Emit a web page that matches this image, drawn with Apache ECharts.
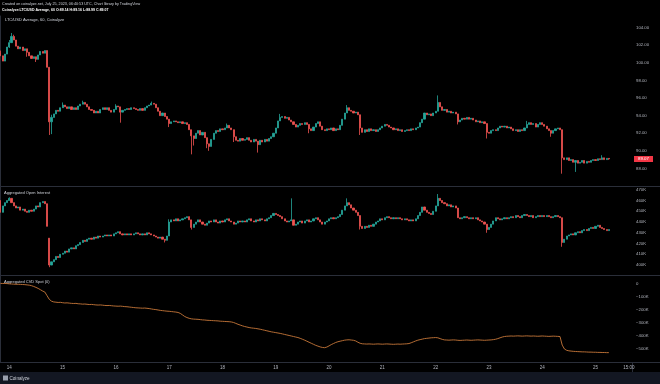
<!DOCTYPE html>
<html><head><meta charset="utf-8">
<script src="https://cdn.jsdelivr.net/npm/echarts@6/dist/echarts.min.js"></script>
<style>html,body{margin:0;padding:0;background:#000;}#c{width:660px;height:384px;}</style>
</head><body><div id="c"></div><script>
// hourly candles, index 0 = Jul 13 20:00 UTC
const priceOpen0 = 101.2;
const priceClose = [
100.8,100.2,101.0,101.8,102.3,103.0,102.6,101.9,101.6,101.8,
101.4,101.6,101.2,100.8,100.5,100.7,100.4,100.9,101.3,101.1,
101.4,99.5,93.3,93.8,94.2,94.6,94.5,94.9,95.2,95.0,
94.8,95.0,94.7,94.9,94.7,95.1,95.3,95.5,95.3,95.0,
94.7,94.6,94.3,94.5,94.3,94.7,94.9,94.7,94.9,94.6,
94.4,94.7,95.1,95.0,94.4,94.6,94.7,94.8,94.7,94.9,
94.8,94.7,94.6,94.8,94.6,94.9,95.1,95.2,95.4,95.3,
94.9,94.5,94.0,94.3,93.9,93.6,93.1,93.3,93.4,93.3,
93.2,93.3,93.1,93.2,93.0,92.4,91.7,91.4,92.0,92.3,
91.8,92.1,91.5,90.8,90.5,91.3,92.0,92.3,92.2,92.5,
92.4,92.6,92.9,92.6,92.4,91.6,91.2,91.1,91.4,91.2,
91.3,91.5,91.2,91.0,91.3,91.1,90.7,91.2,91.0,91.3,
91.1,91.4,91.6,92.0,92.6,93.4,93.8,93.9,93.7,93.8,
93.5,93.3,93.0,92.7,92.9,93.1,93.0,93.2,93.0,92.5,
92.3,92.7,93.1,93.3,92.8,92.4,92.3,92.5,92.4,92.6,
92.3,92.5,92.4,92.9,93.6,94.3,94.9,94.6,94.5,94.3,
94.4,94.1,92.6,92.1,92.4,92.2,92.5,92.3,92.4,92.2,
92.4,92.6,92.8,93.0,92.9,92.7,92.6,92.4,92.5,92.3,
92.4,92.2,92.3,92.4,92.3,92.5,92.4,92.6,92.7,93.2,
93.6,94.3,94.1,94.2,94.0,94.3,94.5,95.5,95.0,94.6,
94.7,94.4,94.5,94.3,94.4,94.2,93.3,93.5,93.7,93.6,
93.8,93.6,93.7,93.5,93.3,93.4,93.2,93.3,93.1,92.1,
92.0,92.3,92.4,92.3,92.6,92.8,92.7,92.8,92.6,92.7,
92.5,92.3,92.4,92.2,92.4,92.3,92.6,93.0,93.2,93.0,
93.1,92.7,93.0,93.2,93.0,92.8,92.5,92.3,92.0,92.3,
92.5,92.6,92.4,89.2,89.0,89.2,88.9,89.0,88.7,88.9,
88.6,88.7,88.9,88.6,88.8,88.7,88.9,89.0,88.9,89.1,
89.0,89.2,89.0,89.14,89.07];
// [high, low] extremes read from the wicks (null: wick ends at body)
const priceWicks = {0:[101.4,null],4:[102.6,101.7],5:[103.4,null],6:[103.2,null],12:[null,100.7],16:[null,100.1],
22:[null,91.8],23:[94.1,91.9],28:[95.5,null],37:[95.7,null],52:[95.3,null],54:[null,93.2],68:[95.6,null],76:[null,92.7],
86:[null,89.6],87:[null,90.6],93:[null,90.3],94:[null,90.0],102:[93.1,null],105:[null,91.0],116:[null,89.8],
126:[94.2,null],139:[null,92.0],156:[95.2,null],162:[null,91.8],197:[96.3,null],206:[null,93.0],
219:[null,91.4],237:[93.4,null],248:[null,91.6],253:[null,87.4],259:[null,87.6],271:[89.5,null],274:[89.16,88.99]};

const oiOpen0 = 460;
const oiClose = [
449,455,458,460,462,458,455,453,454,451,
452,450,449,451,450,452,455,454,458,459,
457,436,400,403,405,408,407,410,411,413,
412,415,416,415,418,419,421,423,422,424,
425,424,426,425,427,426,427,428,427,428,
427,429,430,431,429,428,429,428,429,428,
429,430,429,428,429,428,430,429,428,427,
426,425,426,424,423,427,440,442,441,443,
441,442,443,444,445,442,435,438,440,442,
440,438,437,439,441,440,442,440,439,441,
440,442,443,441,440,438,439,441,440,441,
440,442,443,441,440,442,441,443,442,441,
443,444,446,448,447,446,445,443,441,440,
441,442,437,438,440,441,439,441,442,440,
441,443,444,442,440,438,440,441,443,444,
443,444,445,447,451,455,458,456,453,451,
449,446,436,434,436,435,437,436,438,440,
441,443,442,444,445,444,443,444,443,444,
443,442,443,442,441,442,441,443,446,449,
454,451,449,448,447,450,455,462,460,458,
457,455,456,454,455,453,444,443,444,445,
444,443,444,443,444,442,441,440,438,433,
435,438,441,444,443,442,443,444,443,444,
445,444,446,445,444,446,447,446,445,446,
444,445,446,445,446,445,446,445,444,445,
446,445,444,421,424,427,428,429,428,430,
431,430,432,433,432,434,435,434,436,437,
435,434,433,432,433];
const oiOpenGaps = {22:425};
const oiWicks = {4:[463,null],22:[null,398],74:[null,421],76:[442.5,null],86:[null,433],131:[462,null],
156:[462,null],162:[null,433],197:[466,null],219:[null,430],253:[null,417]};

const cvd = [
5,4,4,3,1,0,-1,-2,-2,-3,
-4,-5,-7,-9,-13,-19,-26,-34,-44,-54,
-62,-90,-118,-132,-138,-140,-142,-141,-144,-146,
-145,-147,-149,-150,-149,-152,-153,-155,-154,-156,
-158,-157,-159,-161,-162,-161,-163,-165,-166,-165,
-167,-169,-170,-171,-170,-172,-174,-175,-177,-179,
-181,-183,-184,-185,-186,-185,-187,-189,-192,-195,
-197,-200,-203,-205,-207,-209,-210,-212,-214,-216,
-219,-226,-238,-250,-258,-264,-268,-270,-271,-272,
-274,-276,-277,-279,-280,-281,-282,-283,-284,-286,
-287,-288,-289,-290,-292,-296,-303,-310,-316,-322,
-327,-331,-335,-338,-340,-342,-345,-348,-352,-356,
-360,-364,-368,-371,-374,-377,-380,-384,-388,-392,
-396,-400,-404,-408,-412,-418,-425,-432,-440,-448,
-456,-464,-472,-478,-484,-488,-490,-485,-476,-466,
-458,-450,-444,-440,-436,-432,-430,-429,-431,-433,
-438,-448,-456,-460,-461,-462,-461,-462,-463,-462,
-461,-462,-463,-462,-461,-462,-463,-464,-463,-462,
-463,-462,-461,-460,-458,-452,-445,-438,-432,-428,
-424,-420,-418,-416,-414,-413,-412,-414,-420,-426,
-430,-431,-432,-431,-430,-431,-433,-434,-433,-432,
-431,-432,-433,-432,-431,-430,-431,-432,-433,-432,
-431,-430,-428,-425,-420,-414,-408,-404,-402,-401,
-400,-401,-400,-399,-400,-401,-400,-399,-400,-401,
-400,-401,-402,-401,-400,-401,-402,-403,-402,-401,
-402,-403,-404,-470,-500,-510,-514,-516,-518,-519,
-520,-521,-522,-522,-523,-524,-524,-525,-525,-526,
-526,-527,-527,-528,-528];

const tickHours = [4,28,52,76,100,124,148,172,196,220,244,268,283];
const tickLabels = ['14','15','16','17','18','19','20','21','22','23','24','25','15:00'];
const lastPrice = 89.07;

function buildCandles(close, open0, gaps, wicks){
  const out = []; let prev = open0;
  for (let i = 0; i < close.length; i++){
    const o = gaps[i] != null ? gaps[i] : prev;
    const c = close[i];
    const w = wicks[i] || [null, null];
    const h = w[0] != null ? w[0] : Math.max(o, c);
    const l = w[1] != null ? w[1] : Math.min(o, c);
    out.push([i, o, c, l, h]);
    prev = c;
  }
  return out;
}
const priceData = buildCandles(priceClose, priceOpen0, {}, priceWicks);
const oiData = buildCandles(oiClose, oiOpen0, oiOpenGaps, oiWicks);
const cvdData = cvd.map((v, i) => [i, v]);

const UP = '#26a69a', DOWN = '#ef5350', SEP = '#2a2e39', LBL = '#b2b5be';
const FONT = 'Liberation Sans';
const xMin = -0.19, xMax = 284.43;
function xAx(g, labels){
  return {type:'value', gridIndex:g, min:xMin, max:xMax, splitLine:{show:false},
    axisLine:{show:false}, axisTick:{show:false},
    axisLabel: labels ? {show:true, customValues:tickHours, color:LBL, fontSize:4.5, fontFamily:FONT, margin:3,
      formatter: v => { const k = tickHours.indexOf(Math.round(v)); return k >= 0 ? tickLabels[k] : ''; }} : {show:false}};
}
function yAx(g, min, max, interval, fmt){
  return {type:'value', gridIndex:g, position:'right', min, max, interval, scale:true,
    splitLine:{show:false}, axisTick:{show:false},
    axisLine:{show:true, lineStyle:{color:SEP, width:1}},
    axisLabel:{color:LBL, fontSize:4.3, fontFamily:FONT, margin:4, formatter:fmt, showMinLabel:true, showMaxLabel:true}};
}
const candleStyle = {color:UP, color0:DOWN, borderColor:UP, borderColor0:DOWN, borderColorDoji:UP, borderWidth:0.8};

const chart = echarts.init(document.getElementById('c'), null, {renderer:'canvas'});
chart.setOption({
  backgroundColor:'#000000',
  animation:false,
  grid:[
    {left:0, right:28, top:16, height:170},
    {left:0, right:28, top:187, height:88.8},
    {left:0, right:28, top:276, height:86}
  ],
  xAxis:[xAx(0,false), xAx(1,false), xAx(2,true)],
  yAxis:[
    yAx(0, 86, 105.33, 2, v => (v >= 88 && v <= 104 && Math.abs(v/2 - Math.round(v/2)) < 1e-6) ? v.toFixed(2) : ''),
    yAx(1, 390, 472.55, 10, v => (v >= 400 && v <= 470 && v % 10 === 0) ? v + 'K' : ''),
    yAx(2, -600, 61.5, 100, v => (v <= 0 && v >= -500 && v % 100 === 0) ? (v === 0 ? '0' : '\u2212' + (-v) + 'K') : '')
  ],
  series:[
    {type:'candlestick', xAxisIndex:0, yAxisIndex:0, data:priceData, encode:{x:0, y:[1,2,3,4]},
     barWidth:1.6, itemStyle:candleStyle, silent:true,
     markLine:{silent:true, symbol:['none','none'], lineStyle:{color:'rgba(0,0,0,0)', width:0.1, type:'solid'},
       data:[{yAxis:lastPrice}],
       label:{show:true, position:'end', distance:2, formatter:lastPrice.toFixed(2), color:'#ffffff',
         backgroundColor:'#f23645', padding:[1,4,1,4], fontSize:4.4, fontFamily:FONT}}},
    {type:'candlestick', xAxisIndex:1, yAxisIndex:1, data:oiData, encode:{x:0, y:[1,2,3,4]},
     barWidth:1.6, itemStyle:candleStyle, silent:true},
    {type:'line', xAxisIndex:2, yAxisIndex:2, data:cvdData, showSymbol:false, silent:true,
     lineStyle:{color:'#c8783a', width:0.9}}
  ],
  graphic:[
    {type:'line', shape:{x1:0,y1:186.5,x2:660,y2:186.5}, style:{stroke:SEP, lineWidth:1}},
    {type:'line', shape:{x1:0,y1:275.5,x2:660,y2:275.5}, style:{stroke:SEP, lineWidth:1}},
    {type:'line', shape:{x1:0,y1:362.5,x2:660,y2:362.5}, style:{stroke:SEP, lineWidth:1}},
    {type:'rect', shape:{x:0,y:372,width:660,height:12}, style:{fill:'#131722'}},
    {type:'line', shape:{x1:632.5,y1:362,x2:632.5,y2:372}, style:{stroke:SEP, lineWidth:1}},
    {type:'text', x:2, y:2, style:{text:'Created on coinalyze.net, July 25, 2023, 06:40:53 UTC, Chart library by TradingView', fill:'#d1d4dc', fontSize:3.7, fontFamily:FONT}},
    {type:'text', x:2, y:8.5, style:{text:'Coinalyze:LTC/USD Average, 60 O:89.14 H:89.16 L:88.99 C:89.07', fill:'#ffffff', fontSize:3.5, fontWeight:'bold', fontFamily:FONT}},
    {type:'text', x:5, y:17.5, style:{text:'LTC/USD Average, 60, Coinalyze', fill:'#d1d4dc', fontSize:4.0, fontFamily:FONT}},
    {type:'text', x:4, y:191, style:{text:'Aggregated Open Interest', fill:'#d1d4dc', fontSize:4.0, fontFamily:FONT}},
    {type:'text', x:4, y:279.5, style:{text:'Aggregated CVD Spot (0)', fill:'#d1d4dc', fontSize:4.0, fontFamily:FONT}},
    {type:'rect', shape:{x:3,y:375.5,width:5,height:5}, style:{fill:'#9aa0ad'}},
    {type:'text', x:9.5, y:375.8, style:{text:'Coinalyze', fill:'#d1d4dc', fontSize:4.6, fontFamily:FONT}}
  ]
});
</script></body></html>
